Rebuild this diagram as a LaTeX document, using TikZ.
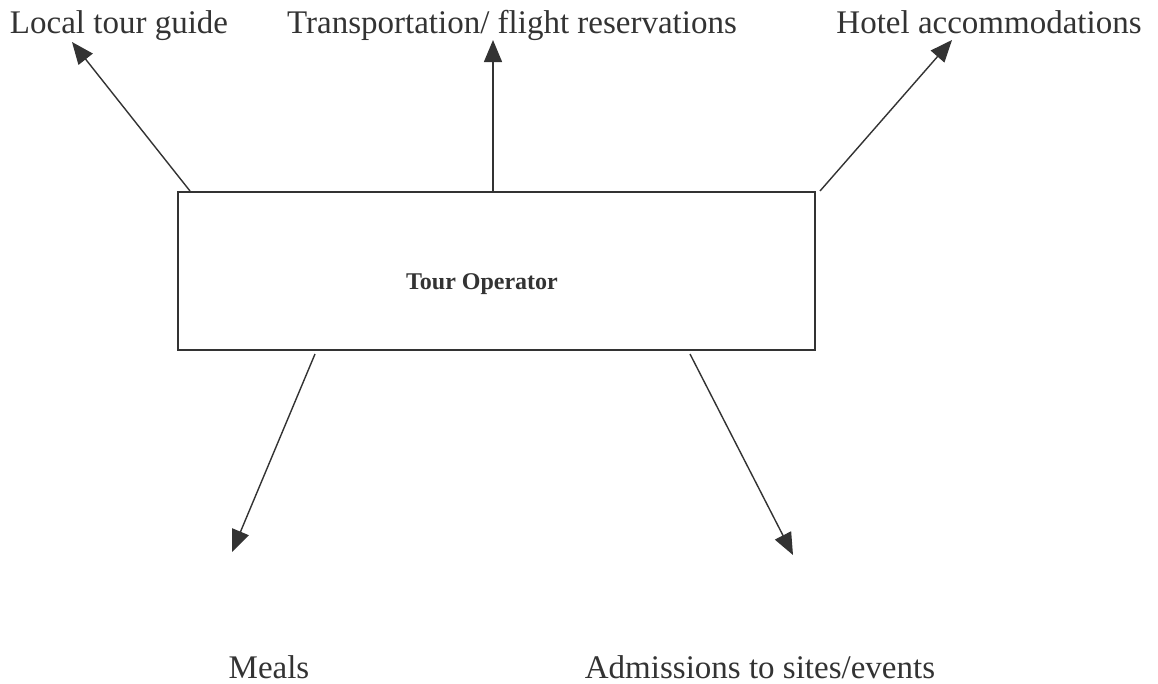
\documentclass[tikz,border=0pt]{standalone}
\usepackage{fontspec}
\setmainfont{Liberation Serif}
\usetikzlibrary{arrows.meta}
\definecolor{ink}{HTML}{333333}
\tikzset{
  lbl/.style={anchor=base, inner sep=0pt, text=ink, font=\fontsize{33}{36}\selectfont},
  boxst/.style={draw=ink, line width=1.6pt, minimum width=637pt, minimum height=158pt, inner sep=0pt},
  conn/.style={draw=ink, line width=1.4pt, -{Triangle[length=22pt,width=18pt]}},
}
\begin{document}
\begin{tikzpicture}[x=1pt,y=-1pt]
\useasboundingbox (0,0) rectangle (1158,683);
\fill[white] (0,0) rectangle (1158,683);
% labels
\node[lbl] (guide) at (119,33) {Local tour guide};
\node[lbl] (trans) at (512,33) {Transportation/ flight reservations};
\node[lbl] (hotel) at (989,33) {Hotel accommodations};
\node[lbl] (meals) at (269,678) {Meals};
\node[lbl] (adm) at (760,678) {Admissions to sites/events};
% box
\node[boxst] (op) at (496.5,271) {};
\node[text=ink, font=\bfseries\fontsize{24}{27}\selectfont] (optext) at (482,284) {Tour Operator};
% connector ends
\coordinate (s1) at (190,191);
\coordinate (t1) at (72,42);
\coordinate (s2) at (493,191);
\coordinate (t2) at (493,40);
\coordinate (s3) at (820,191);
\coordinate (t3) at (952,40);
\coordinate (s4) at (315,354);
\coordinate (t4) at (232,552);
\coordinate (s5) at (690,354);
\coordinate (t5) at (793,555);
\draw[conn] (s1) -- (t1);
\draw[conn] (s2) -- (t2);
\draw[conn] (s3) -- (t3);
\draw[conn] (s4) -- (t4);
\draw[conn] (s5) -- (t5);
\end{tikzpicture}
\end{document}
